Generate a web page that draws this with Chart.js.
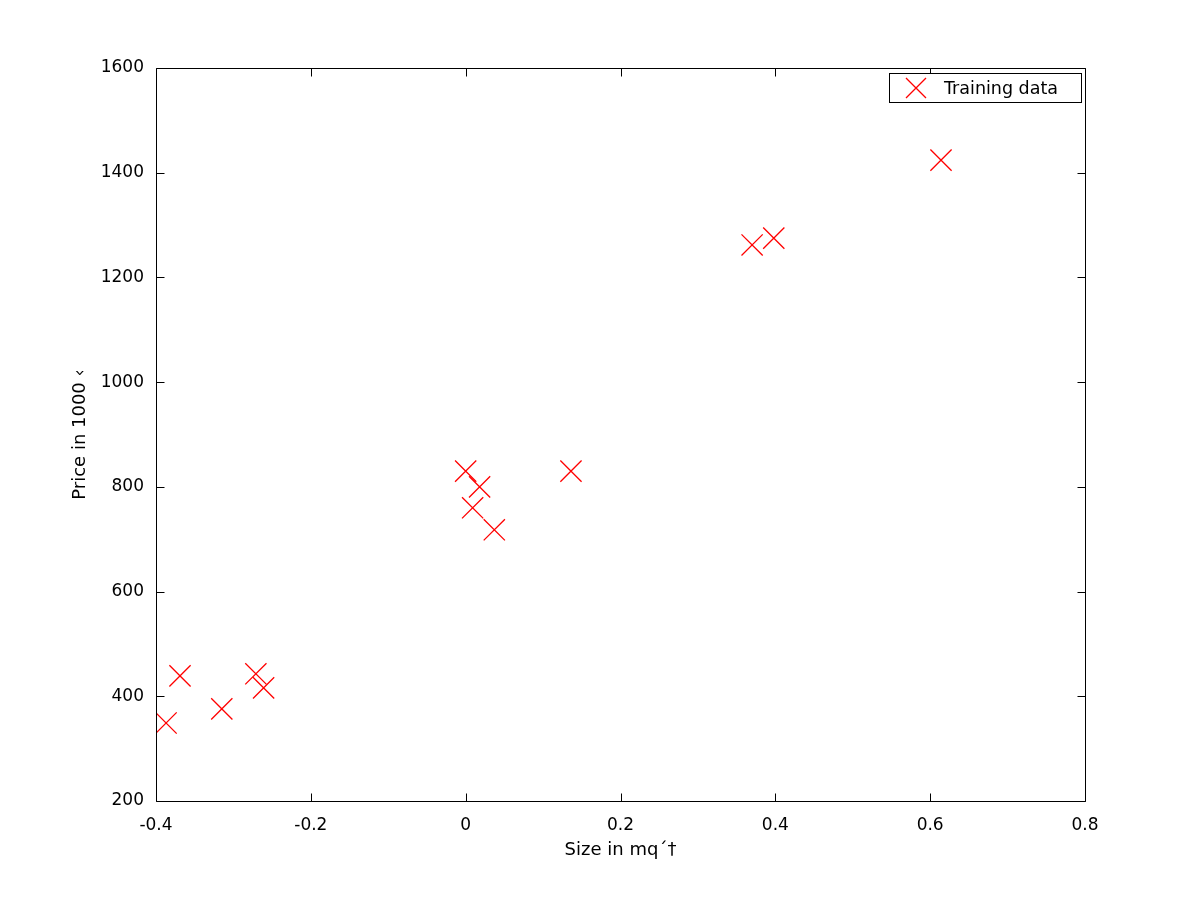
<!DOCTYPE html>
<html>
<head>
<meta charset="utf-8">
<script src="https://cdn.jsdelivr.net/npm/chart.js@4.4.1/dist/chart.umd.min.js"></script>
<style>
  html, body { margin: 0; padding: 0; background: #fff; }
  #wrap { width: 1200px; height: 902px; }
</style>
</head>
<body>
<div id="wrap"><canvas id="c" width="1200" height="902"></canvas></div>
<script>
const seriesLabel = 'Training data';
const sizeValues = [-0.387, -0.369, -0.315, -0.271, -0.261, 0.000, 0.018, 0.009, 0.037, 0.136, 0.370, 0.398, 0.614];
const priceValues = [349, 439, 376, 443, 416, 830, 800, 760, 718, 830, 1262, 1275, 1424];
const xTitle = 'Size in mq´†';
const yTitle = 'Price in 1000 ‹';
const xRange = [-0.4, 0.8];
const yRange = [200, 1600];
const xStep = 0.2;
const yStep = 200;

const points = sizeValues.map((x, i) => ({ x: x, y: priceValues[i] }));
const FONT = '"DejaVu Sans", Verdana, sans-serif';

const framePlugin = {
  id: 'frame',
  afterDraw(chart) {
    const ctx = chart.ctx;
    const a = chart.chartArea;
    const xs = chart.scales.x, ys = chart.scales.y;
    const L = Math.round(a.left) + 0.5, R = Math.round(a.right) + 0.5;
    const T = Math.round(a.top) + 0.5, B = Math.round(a.bottom) + 0.5;
    const tl = 8;
    ctx.save();
    ctx.strokeStyle = '#000';
    ctx.lineWidth = 1;
    ctx.beginPath();
    ctx.rect(L, T, R - L, B - T);
    xs.ticks.forEach(t => {
      const px = Math.round(xs.getPixelForValue(t.value)) + 0.5;
      ctx.moveTo(px, B); ctx.lineTo(px, B - tl);
      ctx.moveTo(px, T); ctx.lineTo(px, T + tl);
    });
    ys.ticks.forEach(t => {
      const py = Math.round(ys.getPixelForValue(t.value)) + 0.5;
      ctx.moveTo(L, py); ctx.lineTo(L + tl, py);
      ctx.moveTo(R, py); ctx.lineTo(R - tl, py);
    });
    ctx.stroke();

    // legend inside the plot
    const ds = chart.data.datasets[0];
    const bx = 889.5, by = 73.5, bw = 192, bh = 29;
    ctx.fillStyle = '#fff';
    ctx.fillRect(bx, by, bw, bh);
    ctx.strokeStyle = '#000';
    ctx.strokeRect(bx, by, bw, bh);
    const cx = 916, cy = 88, h = 10;
    ctx.strokeStyle = ds.borderColor;
    ctx.lineWidth = ds.pointBorderWidth;
    ctx.beginPath();
    ctx.moveTo(cx - h, cy - h); ctx.lineTo(cx + h, cy + h);
    ctx.moveTo(cx - h, cy + h); ctx.lineTo(cx + h, cy - h);
    ctx.stroke();
    ctx.fillStyle = '#000';
    ctx.font = '17.5px ' + FONT;
    ctx.textBaseline = 'middle';
    ctx.textAlign = 'left';
    ctx.fillText(ds.label, 944, cy + 1);
    ctx.restore();
  }
};

new Chart(document.getElementById('c'), {
  type: 'scatter',
  data: {
    datasets: [{
      label: seriesLabel,
      data: points,
      pointStyle: 'crossRot',
      pointRadius: 15,
      pointHoverRadius: 15,
      pointBorderWidth: 1.3,
      borderColor: '#ff0000',
      backgroundColor: '#ff0000'
    }]
  },
  options: {
    responsive: false,
    animation: false,
    devicePixelRatio: 1,
    layout: { padding: { left: 70, top: 68, right: 115, bottom: 41 } },
    plugins: { legend: { display: false }, tooltip: { enabled: false } },
    scales: {
      x: {
        type: 'linear',
        min: xRange[0], max: xRange[1],
        grid: { display: false, drawTicks: false },
        border: { display: false },
        ticks: {
          stepSize: xStep,
          color: '#000',
          font: { family: FONT, size: 17 },
          padding: 14,
          maxRotation: 0,
          callback: v => String(Number(v.toFixed(1)))
        },
        title: {
          display: true, text: xTitle, color: '#000',
          font: { family: FONT, size: 18 },
          padding: { top: 0, bottom: 0 }
        },
        afterFit: s => { s.height = 60; }
      },
      y: {
        type: 'linear',
        min: yRange[0], max: yRange[1],
        grid: { display: false, drawTicks: false },
        border: { display: false },
        ticks: {
          stepSize: yStep,
          color: '#000',
          font: { family: FONT, size: 17 },
          padding: 12,
          callback: v => String(v)
        },
        title: {
          display: true, text: yTitle, color: '#000',
          font: { family: FONT, size: 18 },
          padding: { top: 0, bottom: 0 }
        },
        afterFit: s => { s.width = 86; }
      }
    }
  },
  plugins: [framePlugin]
});
</script>
</body>
</html>
